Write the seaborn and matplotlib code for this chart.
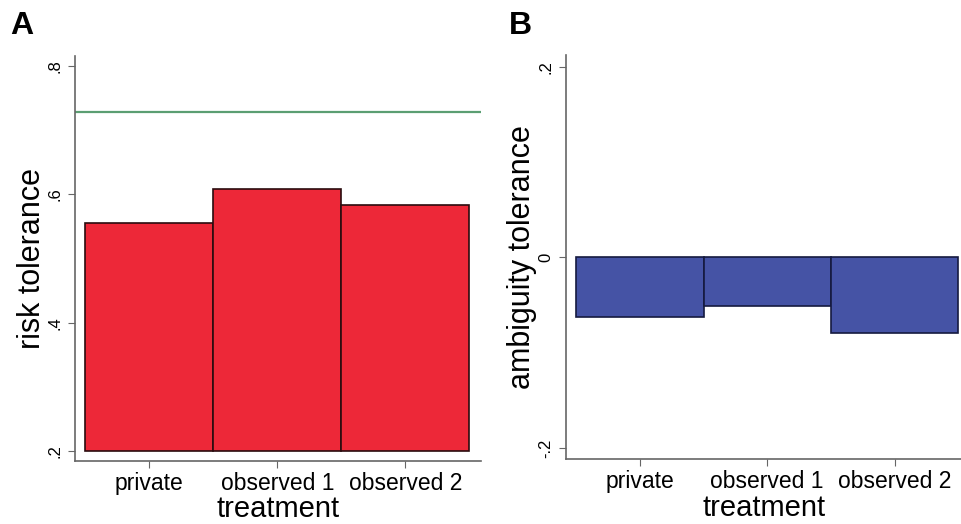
import seaborn as sns
import pandas as pd
import matplotlib
matplotlib.use("Agg")
from matplotlib import pyplot as plt

# values
treatments = ["private", "observed 1", "observed 2"]
risk = [0.556, 0.609, 0.584]
risk_base = 0.2
risk_ref = 0.728
ambiguity = [-0.062, -0.051, -0.079]

risk_ticks = [0.2, 0.4, 0.6, 0.8]
risk_ticklabels = [".2", ".4", ".6", ".8"]
amb_ticks = [-0.2, 0.0, 0.2]
amb_ticklabels = ["-.2", "0", ".2"]

sns.set_style("ticks")
plt.rcParams["font.family"] = ["Liberation Sans", "DejaVu Sans"]
plt.rcParams["text.color"] = "black"
plt.rcParams["axes.labelcolor"] = "black"
plt.rcParams["xtick.labelcolor"] = "black"
plt.rcParams["ytick.labelcolor"] = "black"

fig = plt.figure(figsize=(9.62, 5.24), dpi=100)
ax_a = fig.add_axes([75 / 962, 63 / 524, 406 / 962, 405 / 524])
ax_b = fig.add_axes([566 / 962, 65 / 524, 396 / 962, 404 / 524])

# panel A: bars start at .2
df_a = pd.DataFrame({"treatment": treatments,
                     "height": [v - risk_base for v in risk]})
sns.barplot(data=df_a, x="treatment", y="height", bottom=risk_base, width=1.0,
            color="#ED2838", saturation=1, edgecolor="#2a0c0e", linewidth=1.2,
            ax=ax_a)
ax_a.axhline(risk_ref, color="#5B9E72", lw=1.6)
ax_a.set_xlim(-0.58, 2.59)
ax_a.set_ylim(0.1845, 0.8155)
ax_a.set_yticks(risk_ticks, risk_ticklabels)
ax_a.set_ylabel("risk tolerance", fontsize=22, labelpad=0)
ax_a.set_xlabel("treatment", fontsize=21, labelpad=0)

# panel B
df_b = pd.DataFrame({"treatment": treatments, "value": ambiguity})
sns.barplot(data=df_b, x="treatment", y="value", width=1.0,
            color="#4553A5", saturation=1, edgecolor="#151a40", linewidth=1.2,
            ax=ax_b)
ax_b.set_xlim(-0.58, 2.53)
ax_b.set_ylim(-0.2116, 0.2126)
ax_b.set_yticks(amb_ticks, amb_ticklabels)
ax_b.set_ylabel("ambiguity tolerance", fontsize=22, labelpad=1)
ax_b.set_xlabel("treatment", fontsize=21, labelpad=1)

for ax in [ax_a, ax_b]:
    sns.despine(ax=ax)
    ax.tick_params(axis="x", labelsize=16.5, length=5, color="#666666", pad=3)
    ax.tick_params(axis="y", labelsize=12, length=5, color="#666666", pad=4)
    for lab in ax.get_yticklabels():
        lab.set_rotation(90)
        lab.set_va("center")
    for s in ["left", "bottom"]:
        ax.spines[s].set_color("#666666")
        ax.spines[s].set_linewidth(1.2)

fig.text(10 / 962, 1 - 34 / 524, "A", fontsize=23, fontweight="bold")
fig.text(509 / 962, 1 - 34 / 524, "B", fontsize=23, fontweight="bold")

plt.savefig("out.png", dpi=100)
